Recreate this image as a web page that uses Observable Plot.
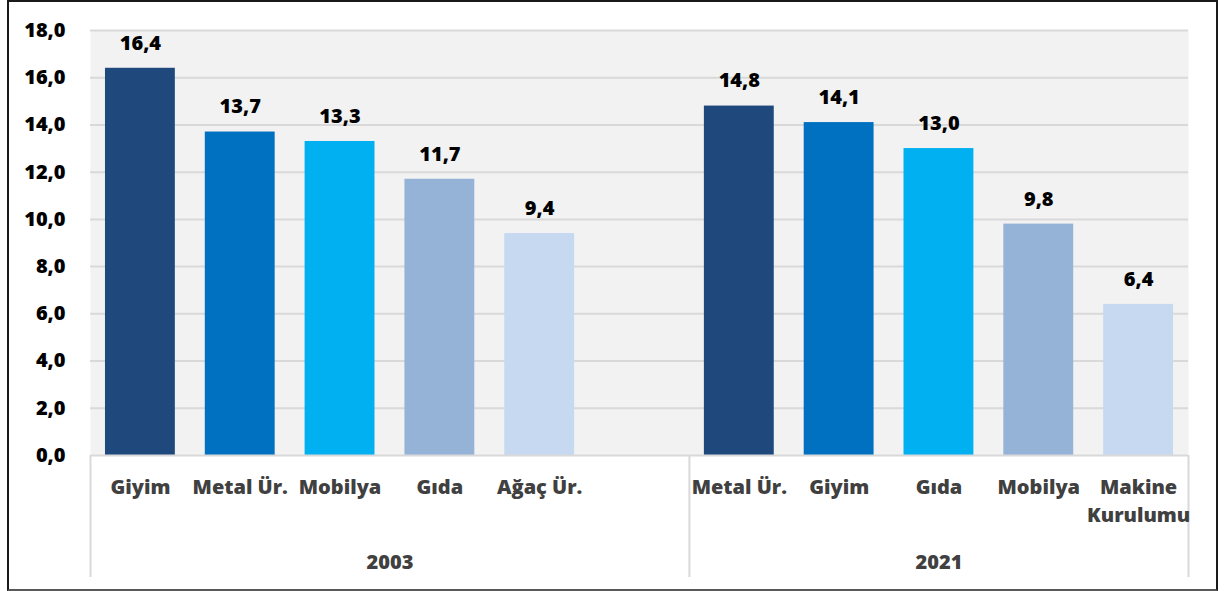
<!DOCTYPE html>
<html><head><meta charset="utf-8">
<script src="https://cdn.jsdelivr.net/npm/d3@7"></script>
<script src="https://cdn.jsdelivr.net/npm/@observablehq/plot@0.6"></script>
<style>
body{margin:0;background:#fff;}
#wrap{position:relative;width:1226px;height:591px;overflow:hidden;}
#border{position:absolute;left:7px;top:0;width:1207px;height:587px;border:2px solid #1a1a1a;border-bottom-color:#595959;pointer-events:none;}
</style></head><body>
<div id="wrap"><div id="border"></div></div>
<script>
const years = ["2003", "2021"];
const categories2003 = ["Giyim", "Metal Ür.", "Mobilya", "Gıda", "Ağaç Ür."];
const values2003 = [16.4, 13.7, 13.3, 11.7, 9.4];
const categories2021 = ["Metal Ür.", "Giyim", "Gıda", "Mobilya", "Makine\nKurulumu"];
const values2021 = [14.8, 14.1, 13.0, 9.8, 6.4];
const groupSlots = [6, 5];
const yTicks = [0, 2, 4, 6, 8, 10, 12, 14, 16, 18];
const colors = ["#1f497d", "#0070c0", "#00b0f0", "#95b3d7", "#c6d9f1"];

const groups = [
  {year: years[0], cats: categories2003, vals: values2003, slots: groupSlots[0]},
  {year: years[1], cats: categories2021, vals: values2021, slots: groupSlots[1]}
];
const data = [];
const boundaries = [-0.5];
const yearCenters = [];
let start = 0;
for (const g of groups) {
  g.cats.forEach((c, i) => data.push({slot: start + i, category: c, value: g.vals[i], rank: i, year: g.year}));
  yearCenters.push({pos: start + (g.slots - 1) / 2, year: g.year});
  start += g.slots;
  boundaries.push(start - 0.5);
}
const slotLabel = new Map(data.map(d => [d.slot, d.category]));
const yearLabel = new Map(yearCenters.map(d => [d.pos, d.year]));
const fmt = v => v.toFixed(1).replace(".", ",");
const font = "'Open Sans', sans-serif";
const W = 800;

const chart = Plot.plot({
  width: 1226,
  height: 591,
  marginLeft: 90,
  marginRight: 38,
  marginTop: 30,
  marginBottom: 136,
  style: {fontFamily: font, fontWeight: W, background: "transparent"},
  x: {domain: [-0.5, start - 0.5], label: null},
  y: {domain: [0, 18], label: null},
  color: {type: "identity"},
  marks: [
    Plot.frame({fill: "#f2f2f2", stroke: "none"}),
    Plot.gridY(yTicks.filter(d => d > 0), {stroke: "#d9d9d9", strokeOpacity: 1, strokeWidth: 2}),
    Plot.rect(data, {x1: d => d.slot - 0.35, x2: d => d.slot + 0.35, y1: 0, y2: "value", fill: d => colors[d.rank]}),
    Plot.ruleY([0], {stroke: "#d9d9d9", strokeWidth: 2}),
    Plot.ruleX(boundaries, {x: d => d, y1: 0, y2: 0, insetBottom: -122, stroke: "#d9d9d9", strokeWidth: 2}),
    Plot.text(data, {x: "slot", y: "value", text: d => fmt(d.value), dy: -25, fontSize: 20, fontWeight: W, fill: "#000"}),
    Plot.axisY(yTicks, {tickFormat: fmt, tickSize: 0, tickPadding: 25, fontSize: 20, fontWeight: W, color: "#000", label: null}),
    Plot.axisX(data.map(d => d.slot), {tickFormat: d => slotLabel.get(d), tickSize: 0, tickPadding: 19, fontSize: 20, lineHeight: 1.4, fontWeight: W, color: "#404040", label: null}),
    Plot.axisX(yearCenters.map(d => d.pos), {tickFormat: d => yearLabel.get(d), tickSize: 0, tickPadding: 99, fontSize: 20, fontWeight: W, color: "#404040", label: null})
  ]
});
document.getElementById("wrap").prepend(chart);
</script>
</body></html>
